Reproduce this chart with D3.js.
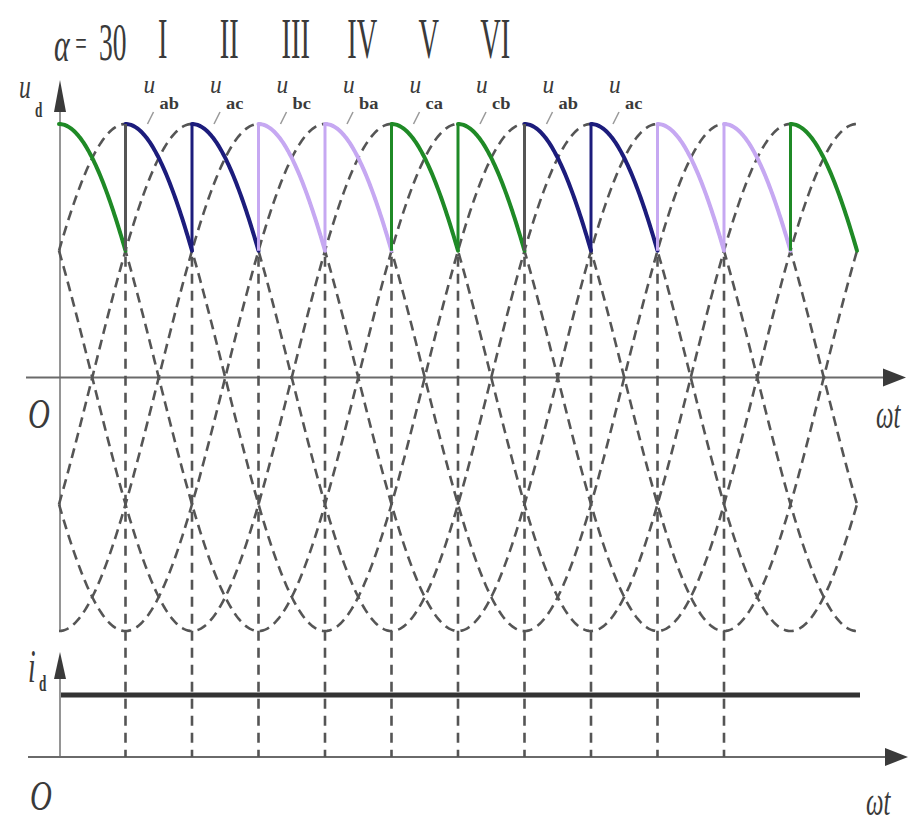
<!DOCTYPE html>
<html><head><meta charset="utf-8">
<script src="https://cdn.jsdelivr.net/npm/d3@7"></script>
<style>body{margin:0;background:#fff}</style>
</head><body><svg id="c" width="914" height="825"></svg>
<script>
// ---- data ----
const voltages = ["ab","ac","bc","ba","ca","cb"];
const peakAngles = [60,120,180,240,300,0];       // ωt (deg) at which each line voltage peaks
const amplitude = 1;
const alpha = 30;                                  // firing angle
const segmentVoltages = ["cb","ab","ac","bc","ba","ca","cb","ab","ac","bc","ba","ca"];
const segmentColors = ["#1f8a26","#1c1c7c","#1c1c7c","#c6a8f2","#c6a8f2","#1f8a26",
                       "#1f8a26","#1c1c7c","#1c1c7c","#c6a8f2","#c6a8f2","#1f8a26"];
const jumpColors = [null,"#555","#1c1c7c","#c6a8f2","#c6a8f2","#1f8a26",
                    "#1f8a26","#555","#1c1c7c","#c6a8f2","#c6a8f2","#1f8a26"];
const topLabels = ["ab","ac","bc","ba","ca","cb","ab","ac"];
const romanLabels = ["I","II","III","IV","V","VI"];
const commutationAngles = [60,120,180,240,300,360,420,480,540,600];
const idValue = 1;
const wtDomain = [0,720];

// ---- scales ----
const svg = d3.select("#c");
const x = d3.scaleLinear().domain(wtDomain).range([59,857]);
const y = d3.scaleLinear().domain([-amplitude,amplitude]).range([631,124]);
const yi = d3.scaleLinear().domain([0,idValue]).range([757,695]);
const rad = Math.PI/180;
const peakOf = v => peakAngles[voltages.indexOf(v)];
const volt = (v,t) => amplitude*Math.sin((t - peakOf(v) + 90)*rad);
const line = d3.line().x(d=>x(d[0])).y(d=>y(d[1]));
const ink = "#3a3a3a";

// ---- axes ----
const x0 = x(0)+1;
svg.append("line").attr("x1",x0).attr("x2",x0).attr("y1",108).attr("y2",631)
  .attr("stroke","#8a8a8a").attr("stroke-width",1.8);
svg.append("path").attr("d",`M${x0},80 L${x0-6},112 L${x0+6},112 Z`).attr("fill",ink);
svg.append("line").attr("x1",26).attr("x2",888).attr("y1",y(0)).attr("y2",y(0))
  .attr("stroke","#6a6a6a").attr("stroke-width",2.2);
svg.append("path").attr("d",`M906,${y(0)} L883,${y(0)-9} L883,${y(0)+9} Z`).attr("fill",ink);

svg.append("line").attr("x1",x0).attr("x2",x0).attr("y1",672).attr("y2",757)
  .attr("stroke","#8a8a8a").attr("stroke-width",1.8);
svg.append("path").attr("d",`M${x0},652 L${x0-6},679 L${x0+6},679 Z`).attr("fill",ink);
svg.append("line").attr("x1",28).attr("x2",890).attr("y1",757).attr("y2",757)
  .attr("stroke","#6a6a6a").attr("stroke-width",2.2);
svg.append("path").attr("d",`M908,757 L885,748 L885,766 Z`).attr("fill",ink);

// ---- dashed line-voltage curves ----
const ts = d3.range(wtDomain[0], wtDomain[1]+0.5, 1);
voltages.forEach(v=>{
  svg.append("path").attr("d", line(ts.map(t=>[t, volt(v,t)])))
    .attr("fill","none").attr("stroke","#555").attr("stroke-width",2.6)
    .attr("stroke-dasharray","10,6");
});

// ---- vertical dashed lines at firing instants ----
commutationAngles.forEach(a=>{
  svg.append("line").attr("x1",x(a)).attr("x2",x(a))
    .attr("y1",y(0.5)+6).attr("y2",757)
    .attr("stroke","#555").attr("stroke-width",2.6).attr("stroke-dasharray","10,7");
});

// ---- output voltage u_d ----
segmentVoltages.forEach((v,j)=>{
  const t0 = j*60, t1 = t0+60;
  const pts = d3.range(t0, t1+0.5, 1).map(t=>[t, volt(v,t)]);
  svg.append("path").attr("d", line(pts)).attr("fill","none")
    .attr("stroke", segmentColors[j]).attr("stroke-width",4).attr("stroke-linecap","round");
  if (j>0){
    const prev = segmentVoltages[j-1];
    svg.append("line").attr("x1",x(t0)).attr("x2",x(t0))
      .attr("y1",y(volt(prev,t0))).attr("y2",y(volt(v,t0)))
      .attr("stroke", jumpColors[j]).attr("stroke-width",3);
  }
});

// ---- i_d ----
svg.append("line").attr("x1",x(0)+2).attr("x2",x(wtDomain[1])+3)
  .attr("y1",yi(idValue)).attr("y2",yi(idValue))
  .attr("stroke","#333").attr("stroke-width",5);

// ---- text ----
const serif = "'Liberation Serif','DejaVu Serif',serif";
function txt(str, tx, ty, size, sx, opts={}){
  const t = svg.append("text").attr("transform",`translate(${tx},${ty}) scale(${sx},1)`)
    .attr("font-family",serif).attr("font-size",size).attr("fill",opts.fill||ink)
    .attr("font-style",opts.italic?"italic":"normal")
    .attr("font-weight",opts.bold?"bold":"normal")
    .attr("text-anchor",opts.anchor||"start").text(str);
  return t;
}
// alpha label
txt("α", 54, 61, 48, 0.62, {italic:true});
txt("=", 81, 55, 34, 0.6, {anchor:"middle"});
txt(String(alpha), 99, 60, 52, 0.53);
// roman numerals
romanLabels.forEach((r,i)=>{
  txt(r, x(60*(i+1)+30)+4, 58, 58, 0.49, {anchor:"middle"});
});
// voltage labels
topLabels.forEach((s,i)=>{
  const ux = x(60*(i+1))+18;
  txt("u", ux, 93, 26, 0.9, {italic:true});
  txt(s, ux+16, 109, 16, 1.15, {bold:true});
  svg.append("line").attr("x1",ux+10).attr("y1",112).attr("x2",ux+4).attr("y2",124)
    .attr("stroke","#9a9a9a").attr("stroke-width",1.5);
});
// axis labels
txt("u", 19, 98, 34, 0.7, {italic:true});
txt("d", 35, 117, 22, 0.6, {bold:true});
txt("i", 28, 682, 46, 0.6, {italic:true});
txt("d", 39, 691, 24, 0.55, {bold:true});
txt("O", 28, 428, 42, 0.72, {italic:true});
txt("O", 30, 810, 42, 0.72, {italic:true});
txt("ωt", 876, 428, 40, 0.62, {italic:true});
txt("ωt", 866, 815, 40, 0.62, {italic:true});
</script></body></html>
